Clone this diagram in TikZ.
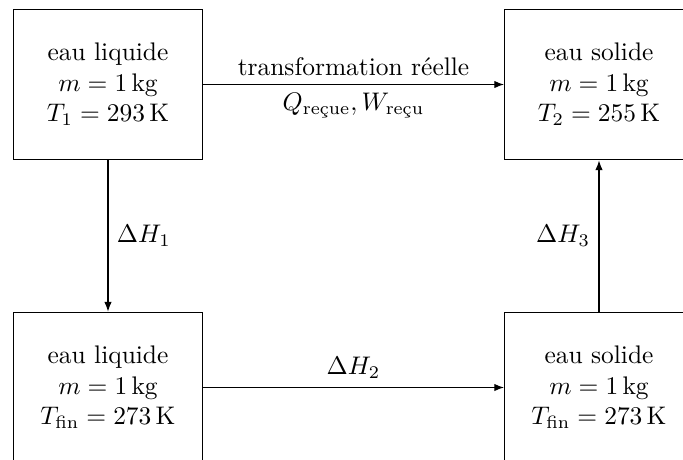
\documentclass[tikz,border=0pt]{standalone}
\usepackage{amsmath}
\usepackage{fontspec}
\usetikzlibrary{arrows.meta}
\begin{document}
\begin{tikzpicture}[x=0.393pt,y=-0.393pt,
  statebox/.style={draw, minimum width=74.3pt, minimum height=59.3pt, align=center, inner sep=0pt},
  conn/.style={-{Latex[length=3.8pt,width=2.9pt]}, line width=0.4pt}]
\useasboundingbox (0,0) rectangle (683,459);
\clip (0,0) rectangle (683,459);
\node[statebox] (tl) at (108,84.5) {eau liquide\\ $m = 1\,\mathrm{kg}$\\ $T_1 = 293\,\mathrm{K}$};
\node[statebox] (tr) at (599,84.5) {eau solide\\ $m = 1\,\mathrm{kg}$\\ $T_2 = 255\,\mathrm{K}$};
\node[statebox] (bl) at (108,387.5) {eau liquide\\ $m = 1\,\mathrm{kg}$\\ $T_{\text{fin}} = 273\,\mathrm{K}$};
\node[statebox] (br) at (599,387.5) {eau solide\\ $m = 1\,\mathrm{kg}$\\ $T_{\text{fin}} = 273\,\mathrm{K}$};
\draw[conn] (tl) -- node[above] (lt) {transformation réelle} node[below] (lq) {$Q_{\text{reçue}}, W_{\text{reçu}}$} (tr);
\draw[conn] (tl) -- node[right] (l1) {$\Delta H_1$} (bl);
\draw[conn] (bl) -- node[above] (l2) {$\Delta H_2$} (br);
\draw[conn] (br) -- node[left] (l3) {$\Delta H_3$} (tr);
\end{tikzpicture}
\end{document}
